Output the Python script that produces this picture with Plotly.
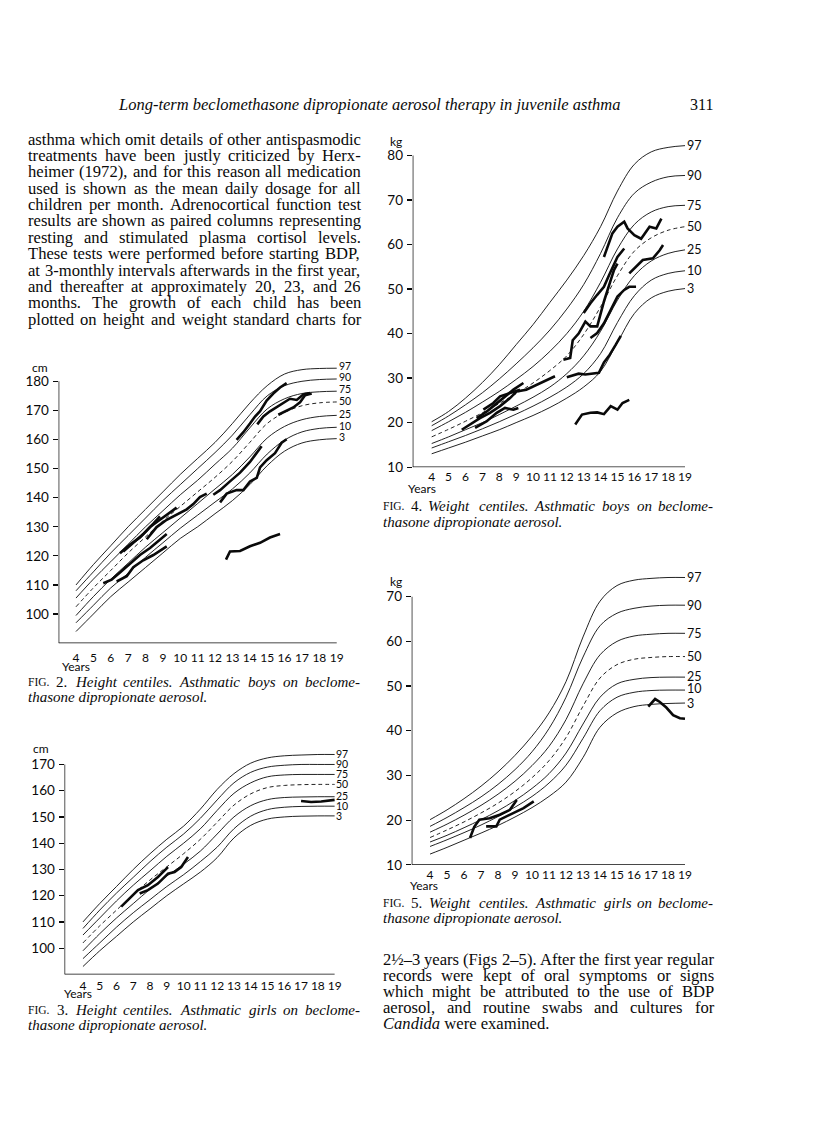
import plotly.graph_objects as go

W, H = 816, 1121

# ---------------- DATA ----------------
AGES = [4, 5, 6, 7, 8, 9, 10, 11, 12, 13, 14, 15, 16, 17, 18, 19]
CENTILES = ["97", "90", "75", "50", "25", "10", "3"]
X_TICKS = list(range(4, 20))

# Fig 2: height centiles, boys (cm)
bh_97 = [110, 117, 123.5, 130, 136, 142, 148, 153.5, 159, 165.5, 172.5, 178.5, 182.5, 184, 184.4, 184.5]
bh_90 = [108, 114.5, 121, 127, 133, 139, 144.5, 150, 155.5, 161.5, 168.5, 175, 178.5, 180, 180.6, 180.8]
bh_75 = [105.5, 112, 118, 124, 130, 135.5, 141, 146, 151.5, 157, 164, 170.5, 174, 175.8, 176.4, 176.6]
bh_50 = [102.5, 109, 115, 121, 126.5, 132, 137, 142, 147, 152.5, 159, 165.5, 169.3, 171.6, 172.6, 172.9]
bh_25 = [99.5, 106, 112, 117.5, 123, 128, 133, 138, 143, 148, 154, 160.5, 164.5, 166.8, 167.9, 168.3]
bh_10 = [97, 103, 109, 114, 119.5, 124.5, 129.5, 134, 138.5, 143, 148.5, 155, 159.8, 162.6, 163.8, 164.2]
bh_3 = [94, 100, 106, 111, 116, 121, 126, 130, 134.5, 139, 144.5, 151, 156, 158.8, 159.9, 160.3]

# Fig 3: height centiles, girls (cm)
gh_97 = [110, 117, 123.5, 130, 136, 141.5, 146.5, 153, 160.5, 166.5, 170.5, 172.5, 173.3, 173.6, 173.8, 173.8]
gh_90 = [107.5, 114.5, 121, 127, 133, 138.5, 143.5, 149.5, 156.5, 163, 167, 169, 169.7, 170, 170, 170]
gh_75 = [105, 111.5, 118, 124, 129.5, 135, 140, 145.5, 152.5, 159, 163, 165.3, 166, 166.2, 166.2, 166.2]
gh_50 = [102, 108.5, 114.5, 120.5, 126, 131, 136, 141.5, 148, 154.5, 158.8, 161.2, 162, 162.3, 162.4, 162.4]
gh_25 = [99, 105.5, 111.5, 117, 122.5, 127.5, 132, 137, 143.5, 150, 154.3, 156.6, 157.4, 157.6, 157.7, 157.7]
gh_10 = [96, 102, 108, 113.5, 118.5, 123.5, 128, 133, 138.5, 145.5, 150.3, 152.8, 153.7, 154, 154.1, 154.1]
gh_3 = [93, 99, 104.5, 110, 115, 120, 124.5, 129, 134.5, 142, 146.8, 149.2, 150, 150.3, 150.4, 150.4]

# Fig 4: weight centiles, boys (kg)
bw_97 = [20.2, 22.5, 25.5, 29, 33, 37.5, 42, 47, 52, 57.5, 64, 72, 78, 80.8, 81.8, 82.2]
bw_90 = [19.3, 21.5, 24, 26.7, 29.8, 33.2, 36.8, 40.8, 45.5, 51, 58, 66, 71.5, 74, 75.2, 75.5]
bw_75 = [18.2, 20.2, 22.3, 24.6, 27, 29.7, 32.6, 36, 40, 45, 51.5, 59, 64.5, 67.3, 68.5, 68.8]
bw_50 = [16.8, 18.5, 20.3, 22.2, 24.3, 26.5, 28.9, 31.7, 35, 39.8, 46, 53, 58.5, 61.5, 63.2, 64]
bw_25 = [15.3, 16.8, 18.4, 20, 21.8, 23.7, 25.7, 28, 31, 35, 40.5, 47.5, 53, 56.3, 58, 58.8]
bw_10 = [14.3, 15.7, 17.1, 18.6, 20.2, 21.9, 23.7, 25.7, 28, 31, 35.5, 42.5, 48.5, 52, 53.5, 54.1]
bw_3 = [13, 14.3, 15.6, 17, 18.4, 20, 21.6, 23.4, 25.5, 28, 31.5, 38, 44.5, 48, 49.5, 50.1]

# Fig 5: weight centiles, girls (kg)
gw_97 = [20.1, 22.3, 24.8, 27.6, 30.8, 34.5, 38.8, 44, 51, 61, 69, 72.5, 73.7, 74.1, 74.3, 74.3]
gw_90 = [18.6, 20.6, 22.8, 25.2, 28, 31.3, 35.3, 40.5, 47.5, 56.5, 63.5, 66.3, 67.4, 67.9, 68.1, 68.1]
gw_75 = [17.3, 19.1, 21.1, 23.3, 25.8, 28.7, 32.2, 36.5, 42.5, 50.5, 57, 60, 61.2, 61.6, 61.8, 61.8]
gw_50 = [16.1, 17.8, 19.6, 21.6, 23.8, 26.4, 29.5, 33.3, 38.5, 45.5, 51.8, 54.8, 56, 56.4, 56.6, 56.6]
gw_25 = [15.1, 16.6, 18.3, 20.1, 22.1, 24.4, 27.1, 30.4, 35, 41.5, 47.5, 50.5, 51.5, 51.9, 52, 52]
gw_10 = [14.1, 15.6, 17.2, 18.9, 20.8, 22.9, 25.3, 28.3, 32.3, 38.3, 44.5, 47.5, 48.6, 49, 49.1, 49.1]
gw_3 = [12.4, 13.9, 15.5, 17.1, 18.8, 20.7, 22.8, 25.3, 28.5, 34, 40.8, 44, 45.4, 45.9, 46.1, 46.2]

# Individual children, Fig 2 (boys height)
b2_a_age = [6.53, 7.11, 7.68, 8.26, 8.83, 9.41, 9.79]
b2_a_cm = [120.9, 123.9, 126.3, 129.9, 132.4, 134.8, 136.6]
b2_b_age = [6.72, 7.3, 7.87, 8.45, 8.83]
b2_b_cm = [121.5, 124.5, 127.5, 131.1, 133.6]
b2_c_age = [8.07, 8.64, 9.22, 9.79, 10.37, 10.75, 11.13, 11.52]
b2_c_cm = [125.7, 129.9, 132.4, 134.2, 136.0, 137.8, 140.2, 141.4]
b2_d_age = [5.57, 6.05, 6.53, 7.11, 7.68, 8.26, 8.83, 9.22]
b2_d_cm = [110.6, 111.8, 114.3, 117.3, 120.3, 122.7, 125.7, 127.5]
b2_e_age = [6.34, 6.92, 7.3, 7.87, 8.45, 9.22]
b2_e_cm = [111.2, 113.0, 116.1, 118.5, 120.3, 123.3]
b2_f_age = [11.9, 12.29, 12.86, 13.44, 14.01, 14.4, 14.68]
b2_f_cm = [141.0, 142.6, 145.6, 148.6, 152.3, 155.3, 157.7]
b2_g_age = [12.29, 12.67, 13.24, 13.63, 14.01, 14.4, 14.59, 14.97, 15.45, 15.83, 16.12]
b2_g_cm = [138.4, 141.4, 142.6, 142.6, 145.6, 146.8, 150.4, 152.9, 155.3, 158.9, 160.1]
b2_h_age = [13.24, 13.63, 14.01, 14.3, 14.59, 14.97, 15.35, 15.74, 16.12]
b2_h_cm = [159.9, 162.5, 165.5, 167.9, 169.7, 173.4, 175.8, 177.9, 179.4]
b2_i_age = [14.43, 14.78, 15.16, 15.55, 15.93, 16.31, 16.7, 17.08, 17.46]
b2_i_cm = [165.2, 167.9, 169.7, 171.2, 172.4, 174.0, 173.6, 175.5, 176.0]
b2_j_age = [15.64, 16.12, 16.5, 16.89, 17.18, 17.56]
b2_j_cm = [168.5, 170.0, 171.0, 172.8, 175.2, 175.8]
b2_k_age = [12.63, 12.86, 13.44, 14.01, 14.59, 15.16, 15.74]
b2_k_cm = [118.7, 121.5, 121.7, 123.3, 124.5, 126.3, 127.5]

# Individual children, Fig 3 (girls height)
g3_a_age = [6.28, 6.88, 7.28, 7.87, 8.47, 9.07]
g3_a_cm = [115.8, 119.6, 122.1, 124.0, 127.1, 130.9]
g3_b_age = [7.38, 7.87, 8.47, 9.07, 9.46, 9.86, 10.26]
g3_b_cm = [120.8, 122.1, 124.6, 128.4, 129.0, 130.9, 134.7]
g3_c_age = [17.0, 17.6, 18.2, 19.0]
g3_c_cm = [156.1, 155.7, 155.9, 156.5]

# Individual children, Fig 4 (boys weight)
b4_a_age = [5.78, 6.27, 6.86, 7.45, 8.05, 8.64, 9.03, 9.6, 10.2, 10.8, 11.3]
b4_a_kg = [18.4, 19.6, 21.0, 22.2, 23.7, 25.5, 27.0, 27.4, 28.5, 29.6, 30.4]
b4_b_age = [6.57, 7.26, 7.85, 8.34, 8.84, 9.13]
b4_b_kg = [18.8, 20.3, 22.2, 23.3, 22.9, 23.3]
b4_c_age = [6.66, 7.26, 7.65, 8.24, 8.84, 9.43]
b4_c_kg = [21.0, 22.5, 23.7, 25.5, 27.4, 28.9]
b4_d_age = [7.06, 7.65, 8.05, 8.64, 9.23]
b4_d_kg = [22.9, 24.4, 25.9, 26.6, 27.4]
b4_e_age = [12.0, 12.3, 12.7, 13.1, 13.5, 13.9, 14.2, 14.5, 14.9, 15.2]
b4_e_kg = [30.2, 30.5, 31.0, 30.8, 31.0, 31.2, 33.5, 35.0, 37.5, 39.5]
b4_f_age = [11.8, 12.2, 12.35, 12.7, 13.1, 13.4, 13.8, 14.2, 14.6, 14.8, 15.0]
b4_f_kg = [34.1, 34.5, 38.5, 40.0, 42.7, 41.6, 41.6, 47.2, 52.0, 54.3, 55.7]
b4_g_age = [14.2, 14.5, 14.7, 15.0, 15.4, 15.6, 16.0, 16.4, 16.7, 16.9, 17.3, 17.6]
b4_g_kg = [57.2, 60.2, 62.5, 64.0, 65.1, 63.6, 62.1, 61.3, 62.8, 64.0, 63.6, 65.8]
b4_h_age = [13.0, 13.4, 13.8, 14.2, 14.5, 14.8, 15.0, 15.4]
b4_h_kg = [44.6, 46.8, 48.7, 50.5, 53.1, 55.7, 57.2, 59.1]
b4_i_age = [13.4, 13.8, 14.2, 14.6, 15.0, 15.4, 15.7, 16.1]
b4_i_kg = [39.0, 40.1, 42.3, 45.3, 48.3, 49.8, 50.5, 50.5]
b4_j_age = [15.7, 16.1, 16.5, 17.1, 17.5, 17.7]
b4_j_kg = [53.5, 55.0, 56.5, 56.9, 58.7, 59.9]
b4_k_age = [12.5, 12.9, 13.4, 13.8, 14.2, 14.6, 15.0, 15.3, 15.7]
b4_k_kg = [19.6, 21.8, 22.2, 22.3, 21.9, 23.7, 22.9, 24.4, 25.1]

# Individual children, Fig 5 (girls weight)
g5_a_age = [6.35, 6.6, 6.9, 7.5, 8.1, 8.7, 9.1]
g5_a_kg = [16.0, 18.5, 20.1, 20.4, 21.2, 22.3, 24.5]
g5_b_age = [7.3, 7.9, 8.1, 8.7, 9.5, 10.1]
g5_b_kg = [18.6, 18.6, 20.1, 21.2, 22.7, 24.2]
g5_c_age = [16.84, 17.24, 17.5, 17.9, 18.3, 18.7, 19.0]
g5_c_kg = [45.4, 47.1, 46.5, 45.2, 43.5, 42.8, 42.7]

# ---------------- TEXT ----------------
HEADER = "Long-term beclomethasone dipropionate aerosol therapy in juvenile asthma"
PAGE_NO = "311"
PARA_LEFT = [
    "asthma which omit details of other antispasmodic",
    "treatments have been justly criticized by Herx-",
    "heimer (1972), and for this reason all medication",
    "used is shown as the mean daily dosage for all",
    "children per month. Adrenocortical function test",
    "results are shown as paired columns representing",
    "resting and stimulated plasma cortisol levels.",
    "These tests were performed before starting BDP,",
    "at 3-monthly intervals afterwards in the first year,",
    "and thereafter at approximately 20, 23, and 26",
    "months. The growth of each child has been",
    "plotted on height and weight standard charts for",
]
PARA_RIGHT = [
    "2½–3 years (Figs 2–5). After the first year regular",
    "records were kept of oral symptoms or signs",
    "which might be attributed to the use of BDP",
    "aerosol, and routine swabs and cultures for",
]
PARA_RIGHT_LAST = "<i>Candida</i> were examined."
CAP2 = ("2.", "Height centiles. Asthmatic boys on beclome-")
CAP3 = ("3.", "Height centiles. Asthmatic girls on beclome-")
CAP4 = ("4.", "Weight centiles. Asthmatic boys on beclome-")
CAP5 = ("5.", "Weight centiles. Asthmatic girls on beclome-")
CAP_TAIL = "thasone dipropionate aerosol."

# ---------------- LAYOUT HELPERS ----------------
TW = {' ': 250, '.': 250, ',': 250, '-': 333, '(': 333, ')': 333, '–': 500, '½': 750,
      ';': 278, ':': 278}
for c, w in zip("abcdefghijklmnopqrstuvwxyz",
                [444, 500, 444, 500, 444, 333, 500, 500, 278, 278, 500, 278, 778, 500, 500,
                 500, 500, 333, 389, 278, 500, 500, 722, 500, 500, 444]):
    TW[c] = w
for c, w in zip("ABCDEFGHIJKLMNOPQRSTUVWXYZ",
                [722, 667, 667, 722, 611, 556, 722, 722, 333, 389, 722, 611, 889, 722, 722,
                 556, 722, 667, 556, 611, 722, 722, 944, 722, 722, 611]):
    TW[c] = w
for c in "0123456789":
    TW[c] = 500


def tw(s, size):
    return sum(TW.get(c, 500) for c in s) * size / 1000.0


SERIF = "Liberation Serif, Times New Roman, serif"
SANS = "Lato, DejaVu Sans, sans-serif"
INK = "#0a0a0a"
annotations = []


def put(text, px, py, size, anchor="left", family=SERIF, italic=False):
    annotations.append(dict(
        text=text, showarrow=False, xanchor=anchor, yanchor="middle",
        font=dict(family=family, size=size, color=INK,
                  style="italic" if italic else "normal"),
        borderpad=0, borderwidth=0,
        xref="paper", yref="paper", x=px / W, y=1 - py / H))


def justify(words, x0, x1, py):
    widths = [tw(t, s) for t, s, _ in words]
    gap = (x1 - x0 - sum(widths)) / max(len(words) - 1, 1)
    x = x0
    for (t, s, it), w in zip(words, widths):
        put(t, x, py, s, italic=it)
        x += w + gap


BODY = 16.6
put(HEADER, 118, 105, 16.5, italic=True)
put(PAGE_NO, 690, 105, 16)

for i, line in enumerate(PARA_LEFT):
    justify([(w, BODY, False) for w in line.split()], 28, 361, 140 + i * 16.5)

for i, line in enumerate(PARA_RIGHT):
    justify([(w, BODY, False) for w in line.split()], 383, 714, 966 + i * 16.1)
put(PARA_RIGHT_LAST, 383, 966 + 4 * 16.1, BODY)


def caption(cap, x0, x1, py):
    num, rest = cap
    words = [("FIG.", 11.5, False), (num, 15, False)] + [(w, 15, True) for w in rest.split()]
    justify(words, x0, x1, py)
    put(CAP_TAIL, x0, py + 15.5, 15, italic=True)


caption(CAP2, 28, 361, 687)
caption(CAP3, 28, 361, 1017)
caption(CAP4, 383, 714, 510)
caption(CAP5, 383, 714, 909)

# ---------------- PANELS ----------------
# pixel geometry for each chart: x range -> x pixels, y range -> y pixels
PANELS = [
    dict(xr=[3, 20], xpx=[58.6, 354.1], yr=[90, 188], ypx=[647.8, 360.6],
         yt=list(range(100, 181, 10)), ytop=180, unit="cm", upos=(40, 370),
         ypos=(76, 671), xlab_off=6, lab=10.5),
    dict(xr=[2.9, 20], xpx=[64.5, 351.4], yr=[90, 176], ypx=[981.4, 754.1],
         yt=list(range(100, 171, 10)), ytop=170, unit="cm", upos=(41, 754),
         ypos=(78, 1001), xlab_off=3, lab=10.5),
    dict(xr=[2.875, 20], xpx=[412.7, 701.9], yr=[10, 84], ypx=[470.5, 138.6],
         yt=list(range(10, 81, 10)), ytop=80, unit="kg", upos=(396, 143),
         ypos=(422, 492), xlab_off=1, lab=12.5),
    dict(xr=[2.92, 20], xpx=[411.7, 702], yr=[10, 76], ypx=[871, 574],
         yt=list(range(10, 71, 10)), ytop=70, unit="kg", upos=(396, 586),
         ypos=(424, 892), xlab_off=1, lab=12.5),
]

CENT_SETS = [
    [bh_97, bh_90, bh_75, bh_50, bh_25, bh_10, bh_3],
    [gh_97, gh_90, gh_75, gh_50, gh_25, gh_10, gh_3],
    [bw_97, bw_90, bw_75, bw_50, bw_25, bw_10, bw_3],
    [gw_97, gw_90, gw_75, gw_50, gw_25, gw_10, gw_3],
]
LABEL_Y = [
    [185.1, 181.4, 177.3, 173.4, 168.6, 164.6, 160.7],
    [174.0, 170.2, 166.2, 162.4, 158.0, 154.2, 150.4],
    [82.2, 75.5, 68.8, 64.0, 58.8, 54.1, 50.1],
    [74.3, 68.1, 61.8, 56.6, 52.1, 49.4, 46.2],
]
LABEL_X = [19.1, 19.05, 19.05, 19.05]
TRACKS = [
    [(b2_a_age, b2_a_cm), (b2_b_age, b2_b_cm), (b2_c_age, b2_c_cm), (b2_d_age, b2_d_cm),
     (b2_e_age, b2_e_cm), (b2_f_age, b2_f_cm), (b2_g_age, b2_g_cm), (b2_h_age, b2_h_cm),
     (b2_i_age, b2_i_cm), (b2_j_age, b2_j_cm), (b2_k_age, b2_k_cm)],
    [(g3_a_age, g3_a_cm), (g3_b_age, g3_b_cm), (g3_c_age, g3_c_cm)],
    [(b4_a_age, b4_a_kg), (b4_b_age, b4_b_kg), (b4_c_age, b4_c_kg), (b4_d_age, b4_d_kg),
     (b4_e_age, b4_e_kg), (b4_f_age, b4_f_kg), (b4_g_age, b4_g_kg), (b4_h_age, b4_h_kg),
     (b4_i_age, b4_i_kg), (b4_j_age, b4_j_kg), (b4_k_age, b4_k_kg)],
    [(g5_a_age, g5_a_kg), (g5_b_age, g5_b_kg), (g5_c_age, g5_c_kg)],
]

fig = go.Figure()
shapes = []
layout_axes = {}
for k, p in enumerate(PANELS):
    n = "" if k == 0 else str(k + 1)
    xa, ya = "x" + n, "y" + n
    layout_axes["xaxis" + n] = dict(
        domain=[p["xpx"][0] / W, p["xpx"][1] / W], range=p["xr"], anchor=ya,
        tickvals=X_TICKS, ticktext=[str(v) for v in X_TICKS], ticks="", tickangle=0,
        showgrid=False, zeroline=False, showline=False,
        ticklabelstandoff=p["xlab_off"],
        tickfont=dict(family=SANS, size=12, color=INK))
    layout_axes["yaxis" + n] = dict(
        domain=[1 - p["ypx"][0] / H, 1 - p["ypx"][1] / H], range=p["yr"], anchor=xa,
        tickvals=p["yt"], ticks="outside", ticklen=5, tickwidth=1.2, tickcolor=INK,
        showgrid=False, zeroline=False, showline=False, ticklabelstandoff=1,
        tickfont=dict(family=SANS, size=13.5, color=INK))
    shapes.append(dict(type="line", xref=xa, yref=ya, x0=p["xr"][0], x1=19,
                       y0=p["yr"][0], y1=p["yr"][0], line=dict(color=INK, width=1.4)))
    shapes.append(dict(type="line", xref=xa, yref=ya, x0=p["xr"][0], x1=p["xr"][0],
                       y0=p["yr"][0], y1=p["ytop"], line=dict(color=INK, width=1.4)))
    for name, vals in zip(CENTILES, CENT_SETS[k]):
        fig.add_trace(go.Scatter(
            x=AGES, y=vals, mode="lines", xaxis=xa, yaxis=ya, showlegend=False,
            hoverinfo="skip",
            line=dict(color=INK, width=0.9, shape="spline", smoothing=1.0,
                      dash="4px,3px" if name == "50" else "solid")))
    for name, lv in zip(CENTILES, LABEL_Y[k]):
        annotations.append(dict(text=name, x=LABEL_X[k], y=lv, xref=xa, yref=ya,
                                showarrow=False, xanchor="left", yanchor="middle",
                                borderpad=0,
                                font=dict(family=SANS, size=p["lab"], color=INK)))
    for ax_, ay_ in TRACKS[k]:
        fig.add_trace(go.Scatter(
            x=ax_, y=ay_, mode="lines", xaxis=xa, yaxis=ya, showlegend=False,
            hoverinfo="skip", line=dict(color=INK, width=2.6)))
    put(p["unit"], p["upos"][0], p["upos"][1], 12, anchor="center", family=SANS)
    put("Years", p["ypos"][0], p["ypos"][1], 12, anchor="center", family=SANS)

fig.update_layout(
    width=W, height=H, margin=dict(l=0, r=0, t=0, b=0),
    paper_bgcolor="white", plot_bgcolor="white",
    annotations=annotations, shapes=shapes, showlegend=False, **layout_axes)

fig.write_html("out.html", config={"displayModeBar": False, "staticPlot": True},
               post_script="document.body.style.margin='0px';document.body.style.padding='0px';")
